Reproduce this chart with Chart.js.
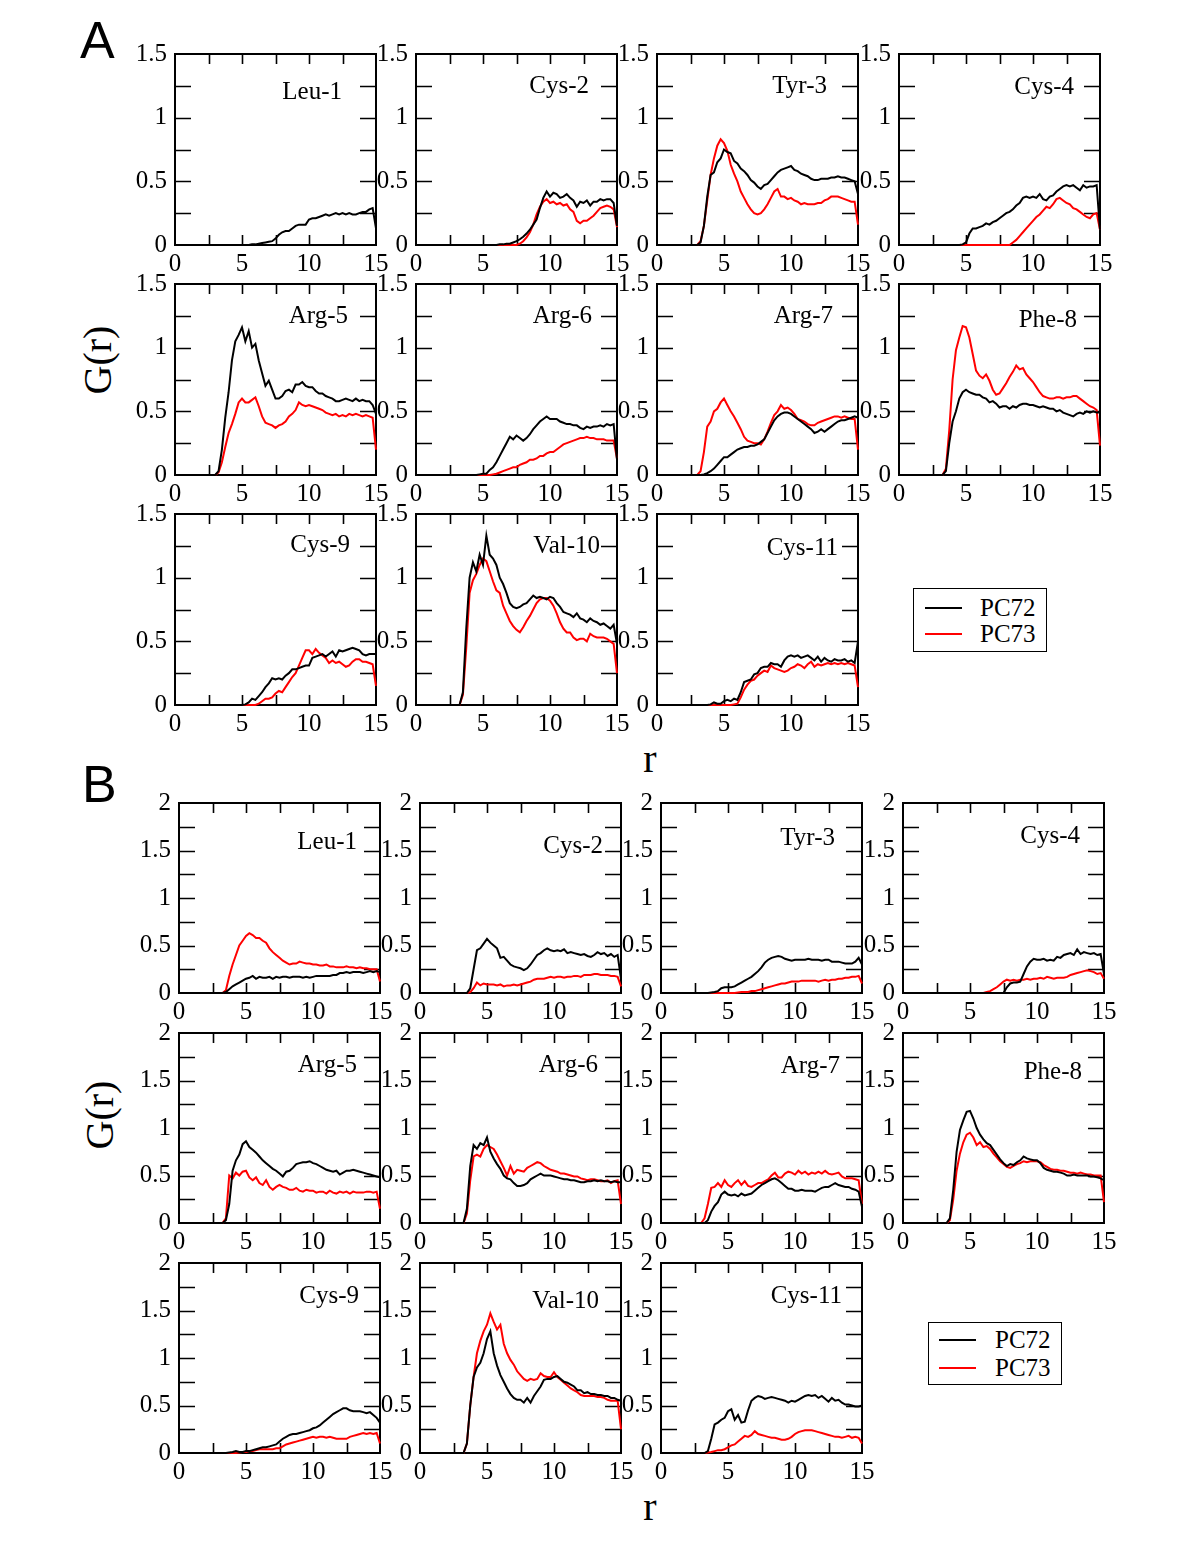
<!DOCTYPE html>
<html>
<head>
<meta charset="utf-8">
<script src="https://cdn.jsdelivr.net/npm/chart.js@4.4.1/dist/chart.umd.min.js"></script>
<style>
  body { margin: 0; background: #fff; }
  #page { position: relative; width: 1200px; height: 1553px; overflow: hidden; background: #fff; }
  #page canvas { position: absolute; }
  .txt { position: absolute; color: #000; white-space: nowrap; line-height: 1; }
  .serif { font-family: "Liberation Serif", "DejaVu Serif", serif; }
  .sans { font-family: "Liberation Sans", "DejaVu Sans", sans-serif; }
  .legend { position: absolute; border: 1.5px solid #000; box-sizing: border-box; background: #fff;
            font-family: "Liberation Serif", serif; font-size: 25px; }
  .legend .sw { position: absolute; height: 2px; width: 37px; }
  .legend .lt { position: absolute; line-height: 1; }
</style>
</head>
<body>
<div id="page">
  <div class="txt sans" style="left:80px;top:14px;font-size:52px">A</div>
  <div class="txt sans" style="left:82px;top:758px;font-size:52px">B</div>
  <div class="txt serif" style="left:48px;top:340px;width:100px;text-align:center;font-size:40px;transform:rotate(-90deg)">G(r)</div>
  <div class="txt serif" style="left:50px;top:1095px;width:100px;text-align:center;font-size:40px;transform:rotate(-90deg)">G(r)</div>
  <div class="txt serif" style="left:600px;top:739px;width:100px;text-align:center;font-size:40px">r</div>
  <div class="txt serif" style="left:600px;top:1487px;width:100px;text-align:center;font-size:40px">r</div>

  <div class="legend" style="left:913px;top:588px;width:134px;height:64px">
    <span class="sw" style="left:11px;top:18px;background:#000"></span>
    <span class="lt" style="left:66px;top:6px">PC72</span>
    <span class="sw" style="left:11px;top:44px;background:#ff0000"></span>
    <span class="lt" style="left:66px;top:32px">PC73</span>
  </div>
  <div class="legend" style="left:928px;top:1322px;width:134px;height:63px">
    <span class="sw" style="left:10px;top:16px;background:#000"></span>
    <span class="lt" style="left:66px;top:4px">PC72</span>
    <span class="sw" style="left:10px;top:44px;background:#ff0000"></span>
    <span class="lt" style="left:66px;top:32px">PC73</span>
  </div>
</div>

<script>
// r grid shared by every panel
const r = [0,0.25,0.5,0.75, 1,1.25,1.5,1.75, 2,2.25,2.5,2.75, 3,3.25,3.5,3.75, 4,4.25,4.5,4.75,
  5,5.25,5.5,5.75, 6,6.25,6.5,6.75, 7,7.25,7.5,7.75, 8,8.25,8.5,8.75, 9,9.25,9.5,9.75,
  10,10.25,10.5,10.75, 11,11.25,11.5,11.75, 12,12.25,12.5,12.75, 13,13.25,13.5,13.75, 14,14.25,14.5,14.75, 15];

const xTicks = [0, 5, 10, 15];
const xMinor = [2.5, 5, 7.5, 10, 12.5];
const yTicksA = [0, 0.5, 1, 1.5];
const yTicksB = [0, 0.5, 1, 1.5, 2];
const residues = ['Leu-1','Cys-2','Tyr-3','Cys-4','Arg-5','Arg-6','Arg-7','Phe-8','Cys-9','Val-10','Cys-11'];

// ---- panel A ----
const aLeu1_72 = [0,0,0,0, 0,0,0,0, 0,0,0,0, 0,0,0,0, 0,0,0,0,
  0,0,0,0.005, 0.005,0.01,0.015,0.02, 0.025,0.03,0.05,0.08, 0.10,0.11,0.11,0.13, 0.15,0.16,0.16,0.16,
  0.20,0.21,0.21,0.22, 0.23,0.24,0.23,0.24, 0.25,0.24,0.25,0.24, 0.25,0.24,0.24,0.25, 0.26,0.26,0.28,0.29, 0.13];
const aLeu1_73 = null;

const aCys2_72 = [0,0,0,0, 0,0,0,0, 0,0,0,0, 0,0,0,0, 0,0,0,0, 0,0,0,0,
  0,0.005,0.005,0.01, 0.01,0.02,0.03,0.045, 0.065,0.09,0.12,0.16, 0.20,0.29,0.37,0.42,
  0.38,0.41,0.40,0.37, 0.38,0.40,0.37,0.35, 0.30,0.34,0.33,0.35, 0.31,0.34,0.34,0.36, 0.35,0.36,0.36,0.33, 0.15];
const aCys2_73 = [0,0,0,0, 0,0,0,0, 0,0,0,0, 0,0,0,0, 0,0,0,0, 0,0,0,0, 0,0,0,0,
  0,0,0,0.01, 0.03,0.06,0.10,0.16, 0.24,0.30,0.34,0.36, 0.33,0.34,0.32,0.33, 0.31,0.32,0.28,0.26,
  0.19,0.17,0.19,0.19, 0.21,0.23,0.26,0.29, 0.30,0.31,0.30,0.28, 0.14];

const aTyr3_72 = [0,0,0,0, 0,0,0,0, 0,0,0,0,
  0,0.02,0.15,0.38, 0.55,0.57,0.65,0.68, 0.75,0.73,0.72,0.66, 0.64,0.60,0.58,0.55, 0.51,0.49,0.46,0.44,
  0.47,0.48,0.51,0.54, 0.57,0.59,0.60,0.61, 0.62,0.59,0.58,0.56, 0.55,0.54,0.52,0.51, 0.51,0.52,0.52,0.52,
  0.53,0.53,0.54,0.53, 0.53,0.52,0.51,0.50, 0.40];
const aTyr3_73 = [0,0,0,0, 0,0,0,0, 0,0,0,0,
  0,0.03,0.15,0.35, 0.55,0.68,0.78,0.83, 0.80,0.74,0.63,0.56, 0.50,0.42,0.37,0.32, 0.28,0.25,0.24,0.25,
  0.28,0.32,0.37,0.42, 0.44,0.38,0.38,0.36, 0.37,0.35,0.34,0.32, 0.33,0.32,0.32,0.32, 0.33,0.33,0.35,0.36,
  0.38,0.38,0.38,0.37, 0.36,0.35,0.34,0.34, 0.16];

const aCys4_72 = [0,0,0,0, 0,0,0,0, 0,0,0,0, 0,0,0,0,
  0,0,0,0.005, 0.02,0.09,0.13,0.13, 0.14,0.15,0.17,0.16, 0.18,0.19,0.21,0.23, 0.25,0.26,0.28,0.31,
  0.33,0.37,0.38,0.37, 0.38,0.37,0.40,0.36, 0.35,0.38,0.39,0.42, 0.44,0.46,0.47,0.46, 0.47,0.45,0.43,0.47,
  0.45,0.46,0.46,0.47, 0.12];
const aCys4_73 = [0,0,0,0, 0,0,0,0, 0,0,0,0, 0,0,0,0, 0,0,0,0, 0,0,0,0, 0,0,0,0, 0,0,0,0,
  0,0,0.02,0.04, 0.07,0.10,0.13,0.16, 0.19,0.22,0.24,0.27, 0.30,0.29,0.32,0.36, 0.37,0.35,0.33,0.32,
  0.29,0.28,0.26,0.24, 0.22,0.21,0.24,0.25, 0.12];

const aArg5_72 = [0,0,0,0, 0,0,0,0, 0,0,0,0,
  0,0.03,0.20,0.45, 0.65,0.90,1.05,1.10, 1.16,1.05,1.13,1.00, 1.03,0.90,0.80,0.70, 0.74,0.67,0.60,0.60,
  0.62,0.66,0.67,0.65, 0.71,0.71,0.73,0.70, 0.69,0.69,0.66,0.64, 0.64,0.62,0.61,0.60, 0.58,0.58,0.59,0.60,
  0.59,0.58,0.60,0.58, 0.59,0.58,0.58,0.55, 0.48];
const aArg5_73 = [0,0,0,0, 0,0,0,0, 0,0,0,0,
  0,0.02,0.10,0.22, 0.33,0.40,0.48,0.57, 0.60,0.57,0.57,0.59, 0.61,0.54,0.46,0.41, 0.40,0.39,0.37,0.39,
  0.40,0.42,0.46,0.48, 0.51,0.57,0.55,0.54, 0.55,0.54,0.53,0.52, 0.51,0.49,0.48,0.47, 0.48,0.46,0.47,0.46,
  0.48,0.47,0.48,0.47, 0.46,0.47,0.46,0.45, 0.20];

const aArg6_72 = [0,0,0,0, 0,0,0,0, 0,0,0,0, 0,0,0,0,
  0,0,0,0.005, 0.01,0.01,0.04,0.06, 0.10,0.15,0.20,0.25, 0.30,0.28,0.31,0.29, 0.27,0.29,0.32,0.36,
  0.39,0.42,0.44,0.46, 0.44,0.44,0.44,0.42, 0.41,0.40,0.40,0.39, 0.39,0.37,0.36,0.38, 0.37,0.38,0.38,0.39,
  0.38,0.40,0.39,0.40, 0.12];
const aArg6_73 = [0,0,0,0, 0,0,0,0, 0,0,0,0, 0,0,0,0, 0,0,0,0,
  0,0,0,0.005, 0.01,0.02,0.03,0.04, 0.05,0.06,0.06,0.08, 0.09,0.10,0.12,0.12, 0.13,0.15,0.15,0.17,
  0.18,0.18,0.20,0.22, 0.24,0.25,0.26,0.27, 0.28,0.29,0.29,0.30, 0.29,0.29,0.28,0.28, 0.28,0.27,0.27,0.27, 0.13];

const aArg7_72 = [0,0,0,0, 0,0,0,0, 0,0,0,0,
  0,0,0.005,0.015, 0.03,0.05,0.08,0.11, 0.14,0.14,0.16,0.18, 0.20,0.21,0.22,0.22, 0.23,0.23,0.24,0.26,
  0.28,0.33,0.38,0.43, 0.46,0.48,0.49,0.49, 0.48,0.46,0.44,0.42, 0.40,0.38,0.36,0.33, 0.34,0.36,0.34,0.36,
  0.38,0.40,0.42,0.43, 0.43,0.44,0.45,0.46, 0.45];
const aArg7_73 = [0,0,0,0, 0,0,0,0, 0,0,0,0,
  0,0.03,0.18,0.38, 0.42,0.50,0.52,0.57, 0.60,0.55,0.50,0.46, 0.41,0.36,0.30,0.27, 0.26,0.25,0.25,0.24,
  0.28,0.34,0.41,0.47, 0.50,0.55,0.52,0.53, 0.51,0.48,0.44,0.43, 0.42,0.40,0.39,0.39, 0.41,0.42,0.43,0.44,
  0.45,0.46,0.46,0.45, 0.46,0.45,0.44,0.44, 0.20];

const aPhe8_72 = [0,0,0,0, 0,0,0,0, 0,0,0,0,
  0,0,0.03,0.25, 0.42,0.50,0.60,0.65, 0.67,0.65,0.64,0.63, 0.63,0.61,0.60,0.57, 0.58,0.56,0.53,0.54,
  0.54,0.52,0.54,0.53, 0.55,0.56,0.56,0.55, 0.55,0.54,0.53,0.54, 0.53,0.52,0.52,0.50, 0.51,0.49,0.48,0.47,
  0.46,0.48,0.49,0.48, 0.50,0.49,0.50,0.49, 0.49];
const aPhe8_73 = [0,0,0,0, 0,0,0,0, 0,0,0,0,
  0,0,0.05,0.35, 0.75,0.98,1.08,1.17, 1.16,1.08,0.95,0.82, 0.78,0.76,0.79,0.74, 0.67,0.63,0.64,0.68,
  0.72,0.77,0.81,0.86, 0.83,0.84,0.79,0.76, 0.73,0.69,0.65,0.62, 0.61,0.60,0.60,0.61, 0.61,0.60,0.61,0.61,
  0.62,0.62,0.60,0.58, 0.56,0.54,0.53,0.51, 0.23];

const aCys9_72 = [0,0,0,0, 0,0,0,0, 0,0,0,0, 0,0,0,0, 0,0,0,0,
  0,0.005,0.02,0.05, 0.04,0.07,0.10,0.14, 0.17,0.21,0.20,0.21, 0.20,0.23,0.25,0.28, 0.28,0.29,0.30,0.31,
  0.31,0.37,0.38,0.39, 0.40,0.38,0.40,0.42, 0.38,0.43,0.42,0.43, 0.44,0.45,0.44,0.43, 0.40,0.39,0.40,0.40, 0.40];
const aCys9_73 = [0,0,0,0, 0,0,0,0, 0,0,0,0, 0,0,0,0, 0,0,0,0, 0,0,0,0,
  0,0.01,0.03,0.05, 0.05,0.06,0.09,0.11, 0.10,0.14,0.18,0.22, 0.25,0.31,0.37,0.43, 0.43,0.40,0.44,0.41,
  0.39,0.37,0.33,0.35, 0.33,0.34,0.32,0.30, 0.31,0.34,0.36,0.36, 0.34,0.34,0.33,0.32, 0.15];

const aVal10_72 = [0,0,0,0, 0,0,0,0, 0,0,0,0,
  0,0,0.10,0.60, 1.00,1.12,1.05,1.18, 1.10,1.33,1.18,1.15, 1.10,1.00,0.95,0.88, 0.80,0.77,0.76,0.77,
  0.79,0.80,0.83,0.86, 0.84,0.85,0.84,0.83, 0.85,0.84,0.80,0.77, 0.73,0.72,0.71,0.69, 0.72,0.68,0.67,0.65,
  0.68,0.66,0.65,0.63, 0.64,0.62,0.60,0.63, 0.48];
const aVal10_73 = [0,0,0,0, 0,0,0,0, 0,0,0,0,
  0,0,0.08,0.45, 0.88,0.98,1.03,1.10, 1.15,1.13,1.05,0.97, 0.90,0.88,0.78,0.72, 0.66,0.62,0.59,0.57,
  0.61,0.66,0.70,0.75, 0.80,0.83,0.84,0.84, 0.82,0.78,0.72,0.65, 0.60,0.57,0.57,0.53, 0.51,0.52,0.52,0.50,
  0.56,0.54,0.53,0.53, 0.53,0.52,0.50,0.48, 0.25];

const aCys11_72 = [0,0,0,0, 0,0,0,0, 0,0,0,0, 0,0,0,0,
  0.005,0.02,0.01,0.01, 0.03,0.04,0.03,0.05, 0.04,0.10,0.18,0.19, 0.20,0.24,0.25,0.29, 0.30,0.30,0.33,0.32,
  0.32,0.30,0.35,0.38, 0.39,0.38,0.39,0.37, 0.38,0.39,0.37,0.35, 0.38,0.34,0.37,0.35, 0.34,0.36,0.35,0.35,
  0.36,0.34,0.35,0.33, 0.50];
const aCys11_73 = [0,0,0,0, 0,0,0,0, 0,0,0,0, 0,0,0,0, 0,0,0,0,
  0,0,0,0.005, 0.01,0.06,0.12,0.16, 0.19,0.20,0.23,0.25, 0.27,0.26,0.31,0.29, 0.28,0.27,0.26,0.27,
  0.29,0.30,0.32,0.31, 0.29,0.32,0.34,0.30, 0.32,0.31,0.32,0.33, 0.32,0.33,0.32,0.33, 0.32,0.33,0.32,0.31, 0.14];

// ---- panel B ----
const bLeu1_72 = [0,0,0,0, 0,0,0,0, 0,0,0,0,
  0,0,0.01,0.04, 0.07,0.09,0.11,0.13, 0.15,0.16,0.18,0.15, 0.17,0.16,0.16,0.17, 0.15,0.17,0.16,0.17,
  0.17,0.16,0.17,0.17, 0.17,0.16,0.17,0.16, 0.17,0.18,0.18,0.18, 0.18,0.18,0.19,0.19, 0.21,0.21,0.22,0.21,
  0.22,0.22,0.22,0.21, 0.22,0.23,0.22,0.23, 0.22];
const bLeu1_73 = [0,0,0,0, 0,0,0,0, 0,0,0,0,
  0,0,0.03,0.18, 0.30,0.40,0.50,0.55, 0.60,0.63,0.61,0.58, 0.58,0.55,0.53,0.47, 0.43,0.40,0.37,0.34,
  0.32,0.30,0.31,0.31, 0.33,0.32,0.31,0.31, 0.30,0.30,0.29,0.29, 0.30,0.28,0.28,0.27, 0.27,0.27,0.28,0.27,
  0.27,0.26,0.27,0.26, 0.26,0.25,0.25,0.25, 0.12];

const bCys2_72 = [0,0,0,0, 0,0,0,0, 0,0,0,0,
  0,0,0,0.05, 0.25,0.45,0.47,0.52, 0.57,0.53,0.50,0.47, 0.37,0.38,0.34,0.30, 0.28,0.27,0.26,0.24,
  0.26,0.30,0.35,0.40, 0.42,0.45,0.47,0.45, 0.44,0.45,0.44,0.46, 0.42,0.43,0.42,0.41, 0.40,0.41,0.39,0.38,
  0.40,0.43,0.41,0.42, 0.39,0.41,0.38,0.40, 0.15];
const bCys2_73 = [0,0,0,0, 0,0,0,0, 0,0,0,0,
  0,0,0,0.01, 0.05,0.11,0.08,0.10, 0.09,0.09,0.09,0.08, 0.09,0.07,0.08,0.08, 0.09,0.08,0.09,0.10,
  0.11,0.12,0.14,0.15, 0.15,0.15,0.16,0.17, 0.16,0.17,0.17,0.16, 0.17,0.17,0.18,0.18, 0.17,0.19,0.19,0.19,
  0.20,0.20,0.19,0.19, 0.19,0.18,0.18,0.17, 0.07];

const bTyr3_72 = [0,0,0,0, 0,0,0,0, 0,0,0,0,
  0,0,0,0.005, 0.01,0.02,0.05,0.06, 0.06,0.06,0.07,0.09, 0.11,0.13,0.15,0.17, 0.20,0.23,0.27,0.32,
  0.35,0.37,0.38,0.39, 0.38,0.36,0.35,0.34, 0.35,0.35,0.35,0.35, 0.36,0.35,0.35,0.35, 0.34,0.35,0.35,0.33,
  0.33,0.33,0.32,0.31, 0.31,0.31,0.33,0.37, 0.30];
const bTyr3_73 = [0,0,0,0, 0,0,0,0, 0,0,0,0, 0,0,0,0, 0,0,0,0,
  0,0,0,0.005, 0.01,0.01,0.01,0.02, 0.02,0.03,0.04,0.05, 0.06,0.07,0.08,0.09, 0.10,0.10,0.11,0.12,
  0.12,0.12,0.13,0.13, 0.13,0.13,0.13,0.12, 0.13,0.14,0.13,0.14, 0.14,0.15,0.15,0.16, 0.16,0.17,0.17,0.18, 0.10];

const bCys4_72 = [0,0,0,0, 0,0,0,0, 0,0,0,0, 0,0,0,0, 0,0,0,0, 0,0,0,0, 0,0,0,0,
  0,0,0,0.06, 0.10,0.11,0.11,0.12, 0.20,0.28,0.33,0.36, 0.35,0.35,0.36,0.34, 0.35,0.34,0.38,0.37,
  0.40,0.41,0.42,0.40, 0.46,0.41,0.43,0.42, 0.41,0.42,0.40,0.41, 0.20];
const bCys4_73 = [0,0,0,0, 0,0,0,0, 0,0,0,0, 0,0,0,0, 0,0,0,0, 0,0,0,0,
  0,0.01,0.02,0.04, 0.06,0.09,0.12,0.14, 0.13,0.14,0.13,0.14, 0.14,0.15,0.14,0.15, 0.15,0.16,0.15,0.17,
  0.16,0.15,0.16,0.16, 0.16,0.17,0.19,0.20, 0.21,0.22,0.23,0.24, 0.23,0.22,0.20,0.21, 0.15];

const bArg5_72 = [0,0,0,0, 0,0,0,0, 0,0,0,0,
  0,0,0.03,0.20, 0.55,0.66,0.72,0.83, 0.86,0.80,0.77,0.74, 0.70,0.66,0.63,0.60, 0.57,0.55,0.52,0.49,
  0.54,0.55,0.58,0.62, 0.63,0.64,0.64,0.65, 0.63,0.62,0.60,0.58, 0.56,0.55,0.54,0.55, 0.51,0.53,0.55,0.55,
  0.56,0.55,0.54,0.53, 0.52,0.51,0.50,0.49, 0.48];
const bArg5_73 = [0,0,0,0, 0,0,0,0, 0,0,0,0,
  0,0,0.05,0.50, 0.47,0.53,0.50,0.54, 0.55,0.48,0.45,0.48, 0.42,0.40,0.45,0.38, 0.35,0.38,0.40,0.38,
  0.37,0.35,0.35,0.37, 0.34,0.33,0.35,0.34, 0.34,0.32,0.33,0.33, 0.31,0.34,0.32,0.31, 0.33,0.32,0.33,0.31,
  0.33,0.32,0.32,0.32, 0.33,0.33,0.32,0.33, 0.15];

const bArg6_72 = [0,0,0,0, 0,0,0,0, 0,0,0,0,
  0,0,0.15,0.60, 0.82,0.78,0.84,0.82, 0.90,0.75,0.68,0.62, 0.57,0.50,0.47,0.46, 0.42,0.39,0.39,0.40,
  0.42,0.46,0.48,0.50, 0.52,0.50,0.50,0.50, 0.49,0.48,0.47,0.46, 0.46,0.45,0.45,0.44, 0.43,0.43,0.44,0.44,
  0.45,0.44,0.45,0.44, 0.44,0.43,0.44,0.43, 0.43];
const bArg6_73 = [0,0,0,0, 0,0,0,0, 0,0,0,0,
  0,0,0.10,0.45, 0.70,0.72,0.70,0.78, 0.82,0.80,0.78,0.72, 0.65,0.58,0.50,0.60, 0.52,0.56,0.55,0.54,
  0.58,0.60,0.62,0.64, 0.63,0.60,0.58,0.56, 0.55,0.54,0.52,0.52, 0.51,0.50,0.49,0.49, 0.47,0.46,0.45,0.46,
  0.46,0.45,0.44,0.44, 0.45,0.42,0.44,0.45, 0.20];

const bArg7_72 = [0,0,0,0, 0,0,0,0, 0,0,0,0,
  0,0,0.03,0.12, 0.18,0.22,0.30,0.33, 0.30,0.29,0.30,0.28, 0.31,0.29,0.30,0.31, 0.34,0.37,0.40,0.42,
  0.44,0.46,0.47,0.45, 0.42,0.39,0.36,0.36, 0.34,0.34,0.35,0.34, 0.34,0.34,0.33,0.35, 0.37,0.38,0.38,0.40,
  0.42,0.40,0.39,0.38, 0.38,0.36,0.35,0.33, 0.17];
const bArg7_73 = [0,0,0,0, 0,0,0,0, 0,0,0,0,
  0,0.05,0.20,0.37, 0.38,0.42,0.38,0.45, 0.40,0.38,0.42,0.45, 0.40,0.44,0.39,0.38, 0.40,0.42,0.42,0.44,
  0.46,0.50,0.53,0.48, 0.48,0.52,0.54,0.53, 0.51,0.55,0.52,0.54, 0.51,0.53,0.52,0.54, 0.52,0.55,0.52,0.51,
  0.52,0.53,0.49,0.47, 0.47,0.47,0.46,0.45, 0.20];

const bPhe8_72 = [0,0,0,0, 0,0,0,0, 0,0,0,0,
  0,0,0.05,0.35, 0.75,0.98,1.08,1.17, 1.18,1.10,1.00,0.93, 0.88,0.84,0.82,0.77, 0.72,0.67,0.63,0.60,
  0.62,0.61,0.64,0.66, 0.70,0.68,0.67,0.66, 0.66,0.63,0.58,0.56, 0.55,0.54,0.54,0.53, 0.52,0.50,0.50,0.51,
  0.50,0.50,0.50,0.50, 0.49,0.49,0.48,0.47, 0.45];
const bPhe8_73 = [0,0,0,0, 0,0,0,0, 0,0,0,0,
  0,0,0.03,0.25, 0.55,0.73,0.85,0.93, 0.95,0.90,0.82,0.85, 0.80,0.81,0.78,0.73, 0.69,0.65,0.62,0.59,
  0.58,0.60,0.62,0.63, 0.65,0.64,0.65,0.65, 0.65,0.64,0.61,0.59, 0.57,0.56,0.56,0.55, 0.55,0.54,0.53,0.53,
  0.52,0.53,0.52,0.51, 0.51,0.50,0.50,0.50, 0.22];

const bCys9_72 = [0,0,0,0, 0,0,0,0, 0,0,0,0,
  0,0,0,0.005, 0.01,0.02,0.01,0.01, 0.02,0.02,0.03,0.04, 0.05,0.06,0.06,0.07, 0.08,0.09,0.12,0.15,
  0.17,0.19,0.20,0.20, 0.21,0.22,0.23,0.24, 0.26,0.27,0.29,0.32, 0.35,0.38,0.41,0.43, 0.45,0.47,0.47,0.45,
  0.44,0.44,0.44,0.43, 0.42,0.43,0.40,0.37, 0.32];
const bCys9_73 = [0,0,0,0, 0,0,0,0, 0,0,0,0, 0,0,0,0,
  0,0,0.005,0.01, 0.01,0.02,0.02,0.03, 0.04,0.04,0.04,0.04, 0.04,0.05,0.05,0.07, 0.09,0.10,0.11,0.12,
  0.13,0.14,0.15,0.16, 0.17,0.16,0.17,0.17, 0.16,0.17,0.16,0.15, 0.15,0.15,0.15,0.17, 0.18,0.19,0.20,0.21,
  0.20,0.21,0.20,0.21, 0.10];

const bVal10_72 = [0,0,0,0, 0,0,0,0, 0,0,0,0,
  0,0,0.10,0.50, 0.80,0.90,0.95,1.05, 1.20,1.28,1.05,0.92, 0.82,0.75,0.68,0.62, 0.58,0.56,0.56,0.53,
  0.58,0.53,0.60,0.65, 0.70,0.77,0.78,0.78, 0.80,0.81,0.78,0.75, 0.74,0.72,0.70,0.66, 0.66,0.63,0.64,0.62,
  0.62,0.61,0.61,0.60, 0.60,0.58,0.58,0.56, 0.55];
const bVal10_73 = [0,0,0,0, 0,0,0,0, 0,0,0,0,
  0,0,0.10,0.50, 0.80,1.05,1.18,1.28, 1.35,1.47,1.38,1.30, 1.35,1.15,1.05,0.98, 0.93,0.86,0.82,0.78,
  0.76,0.78,0.77,0.78, 0.84,0.81,0.80,0.80, 0.85,0.80,0.77,0.74, 0.71,0.68,0.66,0.64, 0.61,0.60,0.60,0.60,
  0.60,0.59,0.59,0.58, 0.56,0.55,0.55,0.55, 0.25];

const bCys11_72 = [0,0,0,0, 0,0,0,0, 0,0,0,0,
  0,0,0.02,0.15, 0.30,0.32,0.35,0.37, 0.44,0.46,0.35,0.40, 0.32,0.33,0.45,0.55, 0.58,0.60,0.59,0.57,
  0.58,0.59,0.58,0.57, 0.56,0.55,0.53,0.55, 0.54,0.56,0.58,0.60, 0.61,0.60,0.61,0.58, 0.60,0.57,0.54,0.58,
  0.55,0.56,0.53,0.51, 0.51,0.50,0.49,0.49, 0.50];
const bCys11_73 = [0,0,0,0, 0,0,0,0, 0,0,0,0,
  0,0,0.005,0.01, 0.02,0.03,0.03,0.04, 0.06,0.08,0.09,0.12, 0.15,0.18,0.17,0.19, 0.23,0.20,0.19,0.18,
  0.17,0.16,0.16,0.15, 0.14,0.14,0.15,0.17, 0.20,0.22,0.23,0.24, 0.24,0.24,0.23,0.22, 0.21,0.20,0.19,0.18,
  0.17,0.17,0.16,0.17, 0.18,0.16,0.17,0.16, 0.10];

const seriesA = [
  [aLeu1_72, aLeu1_73], [aCys2_72, aCys2_73], [aTyr3_72, aTyr3_73], [aCys4_72, aCys4_73],
  [aArg5_72, aArg5_73], [aArg6_72, aArg6_73], [aArg7_72, aArg7_73], [aPhe8_72, aPhe8_73],
  [aCys9_72, aCys9_73], [aVal10_72, aVal10_73], [aCys11_72, aCys11_73]
];
const seriesB = [
  [bLeu1_72, bLeu1_73], [bCys2_72, bCys2_73], [bTyr3_72, bTyr3_73], [bCys4_72, bCys4_73],
  [bArg5_72, bArg5_73], [bArg6_72, bArg6_73], [bArg7_72, bArg7_73], [bPhe8_72, bPhe8_73],
  [bCys9_72, bCys9_73], [bVal10_72, bVal10_73], [bCys11_72, bCys11_73]
];

// layout (page pixels): plot boxes and where each residue title sits
const layoutA = { cols: [175, 416, 657, 899], rows: [54, 284, 514], w: 201, h: 191, yMax: 1.5, yTicks: yTicksA,
  titles: [[342,99],[589,93],[827,93],[1074,94],[348,323],[592,323],[833,323],[1077,327],[350,552],[600,553],[838,555]] };
const layoutB = { cols: [179, 420, 661, 903], rows: [803, 1033, 1263], w: 201, h: 190, yMax: 2, yTicks: yTicksB,
  titles: [[357,849],[603,853],[835,845],[1080,843],[357,1072],[598,1072],[840,1073],[1082,1079],[359,1303],[599,1308],[842,1303]] };

const PAD = { left: 60, top: 20, right: 40, bottom: 36 };
const FONT = '25px "Liberation Serif", "DejaVu Serif", serif';

const framePlugin = {
  id: 'frame',
  beforeDatasetsDraw(chart, args, opts) {
    const { ctx, chartArea: a } = chart;
    const xs = chart.scales.x, ys = chart.scales.y;
    ctx.save();
    ctx.strokeStyle = '#000';
    ctx.lineWidth = 2;
    ctx.strokeRect(a.left, a.top, a.right - a.left, a.bottom - a.top);

    ctx.lineWidth = 1.6;
    ctx.beginPath();
    xMinor.forEach(v => {
      const px = Math.round(xs.getPixelForValue(v)) + 0.5;
      ctx.moveTo(px, a.bottom); ctx.lineTo(px, a.bottom - 10);
      ctx.moveTo(px, a.top); ctx.lineTo(px, a.top + 10);
    });
    for (let v = 0.25; v < opts.yMax - 0.01; v += 0.25) {
      const py = Math.round(ys.getPixelForValue(v)) + 0.5;
      ctx.moveTo(a.left, py); ctx.lineTo(a.left + 16, py);
      ctx.moveTo(a.right, py); ctx.lineTo(a.right - 16, py);
    }
    ctx.stroke();

    ctx.fillStyle = '#000';
    ctx.font = FONT;
    ctx.textAlign = 'center';
    ctx.textBaseline = 'middle';
    xTicks.forEach(v => ctx.fillText(String(v), xs.getPixelForValue(v), a.bottom + 19));
    ctx.textAlign = 'right';
    opts.yTicks.forEach(v => ctx.fillText(String(v), a.left - 8, ys.getPixelForValue(v)));

    ctx.textBaseline = 'alphabetic';
    ctx.fillText(opts.title, a.left + opts.tx, a.top + opts.ty);
    ctx.restore();
  }
};

function makePanel(lay, idx, pair) {
  const col = idx % 4, row = Math.floor(idx / 4);
  const left = lay.cols[col], top = lay.rows[row];
  const cv = document.createElement('canvas');
  cv.width = lay.w + PAD.left + PAD.right;
  cv.height = lay.h + PAD.top + PAD.bottom;
  cv.style.left = (left - PAD.left) + 'px';
  cv.style.top = (top - PAD.top) + 'px';
  document.getElementById('page').appendChild(cv);

  const datasets = [];
  [['PC72', '#000000', pair[0]], ['PC73', '#ff0000', pair[1]]].forEach(([name, color, vals]) => {
    if (!vals) return;
    if (vals.length !== r.length) console.warn(residues[idx], name, vals.length);
    datasets.push({
      label: name,
      data: vals.map((g, i) => ({ x: r[i], y: g })),
      borderColor: color,
      borderWidth: 2,
      pointRadius: 0,
      tension: 0,
      fill: false,
      clip: false
    });
  });

  const t = lay.titles[idx];
  new Chart(cv, {
    type: 'line',
    data: { datasets },
    options: {
      responsive: false,
      animation: false,
      events: [],
      layout: { padding: PAD, autoPadding: false },
      scales: {
        x: { type: 'linear', min: 0, max: 15, display: false },
        y: { type: 'linear', min: 0, max: lay.yMax, display: false }
      },
      plugins: {
        legend: { display: false },
        tooltip: { enabled: false },
        frame: { title: residues[idx], tx: t[0] - (left + lay.w) + lay.w, ty: t[1] - top,
                 yMax: lay.yMax, yTicks: lay.yTicks }
      }
    },
    plugins: [framePlugin]
  });
}

seriesA.forEach((pair, i) => makePanel(layoutA, i, pair));
seriesB.forEach((pair, i) => makePanel(layoutB, i, pair));
</script>
</body>
</html>
